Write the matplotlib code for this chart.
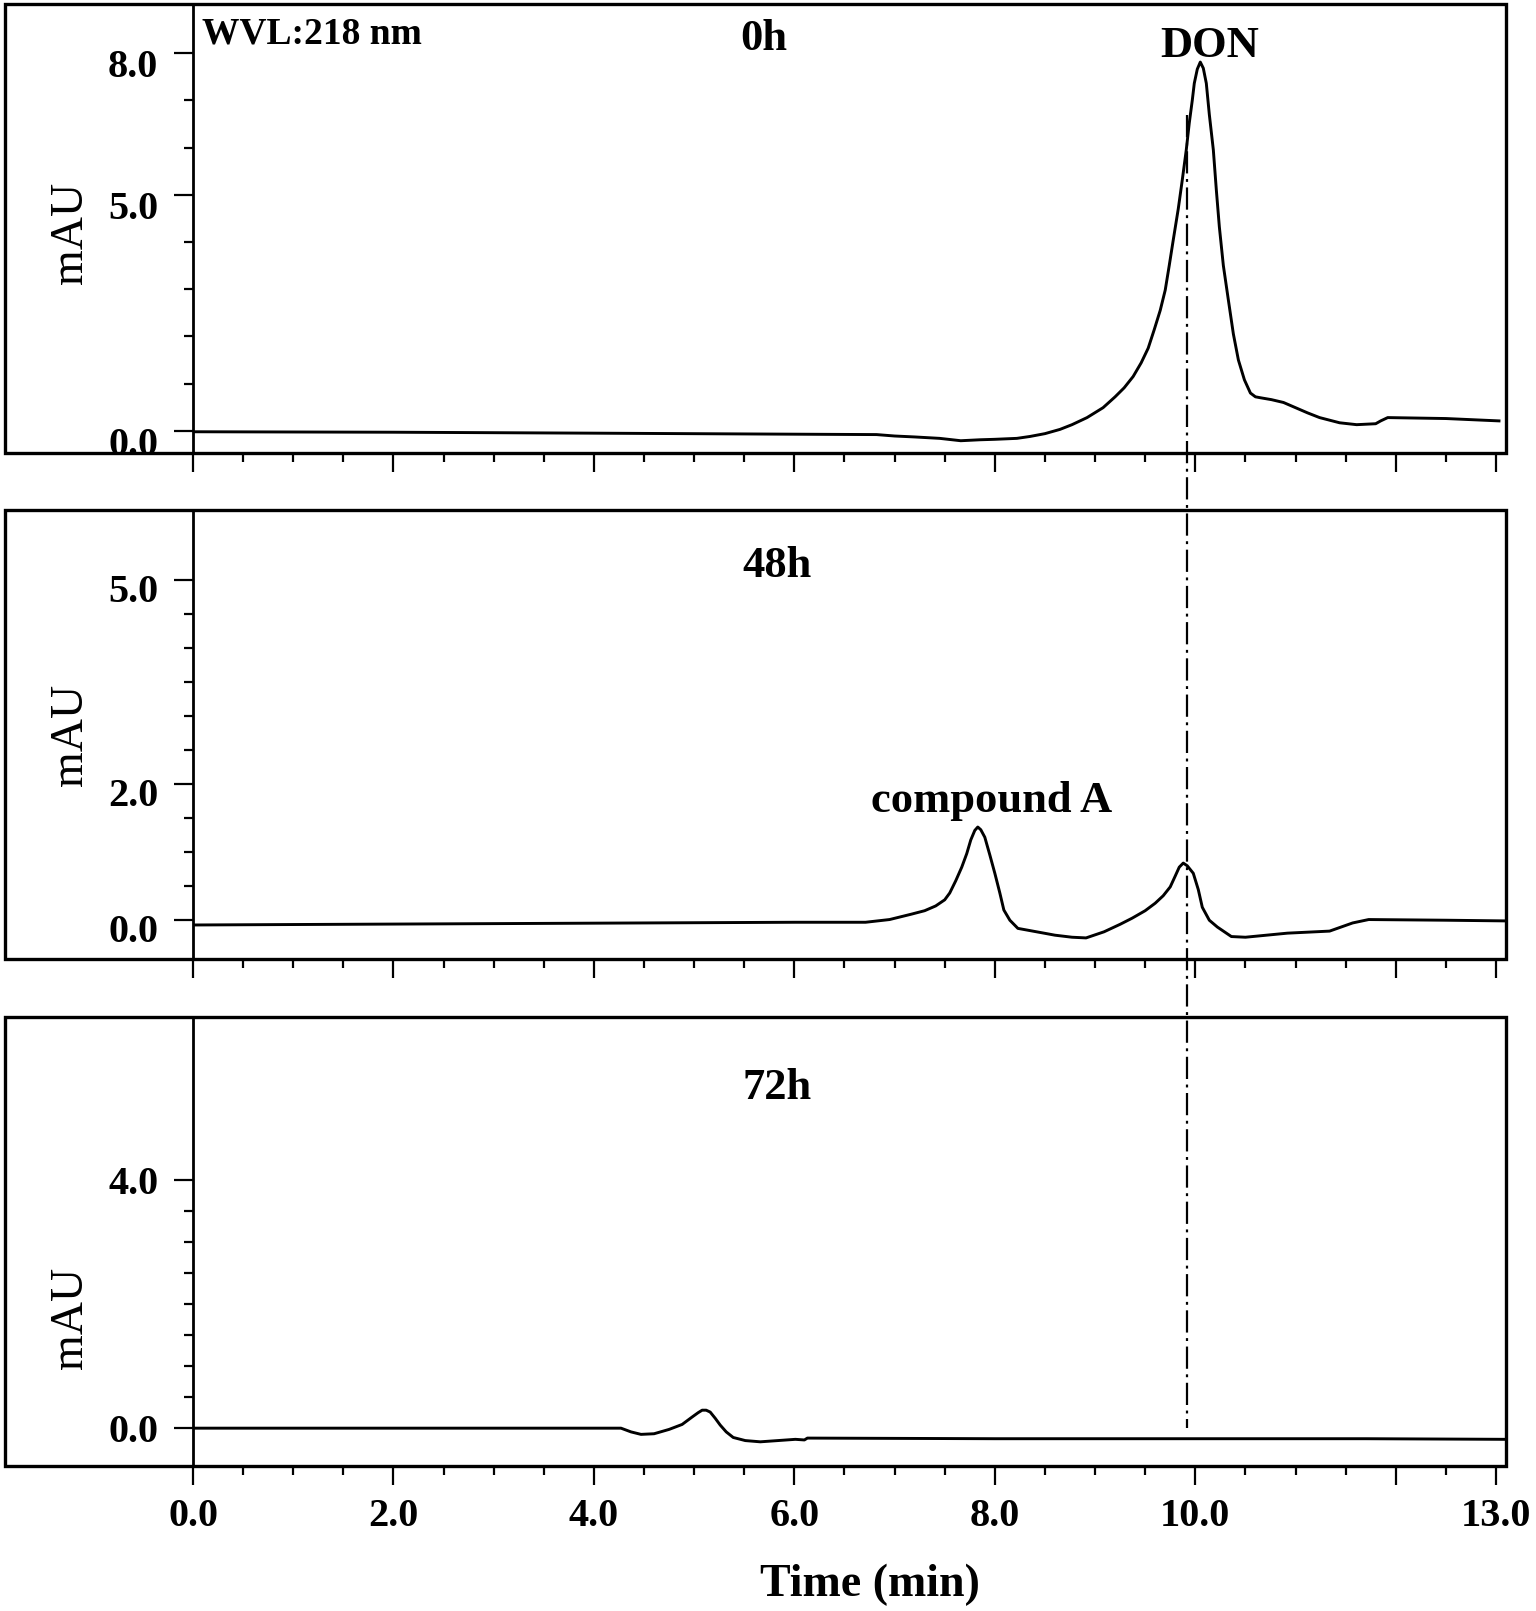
import numpy as np
import matplotlib
matplotlib.use("Agg")
import matplotlib.pyplot as plt
import matplotlib.transforms as mtransforms
from matplotlib.patches import Rectangle
from matplotlib.lines import Line2D

plt.rcParams['font.family'] = ['Liberation Serif', 'DejaVu Serif']

# ---- data (time in min, signal in mAU) ----
t_0h = [0.0, 2.0, 4.0, 5.84, 6.82, 7.0, 7.2, 7.45, 7.66, 7.85, 8.0, 8.22, 8.35,
        8.5, 8.65, 8.77, 8.92, 9.08, 9.2, 9.29, 9.38, 9.46, 9.53, 9.59, 9.65,
        9.70, 9.74, 9.78, 9.83, 9.87, 9.91, 9.94, 9.97, 9.99, 10.02, 10.05,
        10.08, 10.11, 10.14, 10.18, 10.21, 10.24, 10.28, 10.33, 10.38, 10.43,
        10.49, 10.55, 10.60, 10.65, 10.76, 10.88, 11.0, 11.12, 11.24, 11.44,
        11.61, 11.80, 11.85, 11.92, 12.5, 13.03]
mau_0h = [-0.02, -0.03, -0.05, -0.07, -0.08, -0.11, -0.13, -0.16, -0.21, -0.19,
          -0.18, -0.16, -0.12, -0.06, 0.03, 0.13, 0.28, 0.49, 0.72, 0.91, 1.15,
          1.44, 1.75, 2.14, 2.55, 2.98, 3.50, 4.04, 4.70, 5.31, 5.95, 6.52,
          7.00, 7.36, 7.66, 7.81, 7.68, 7.36, 6.70, 5.95, 5.10, 4.32, 3.50,
          2.77, 2.05, 1.50, 1.08, 0.80, 0.72, 0.70, 0.66, 0.60, 0.49, 0.38,
          0.28, 0.17, 0.13, 0.15, 0.21, 0.28, 0.26, 0.21]

t_48h = [0.0, 3.0, 6.01, 6.71, 6.95, 7.17, 7.30, 7.41, 7.50, 7.55, 7.61, 7.67,
         7.72, 7.76, 7.80, 7.83, 7.86, 7.90, 7.95, 8.00, 8.05, 8.09, 8.15, 8.23,
         8.49, 8.60, 8.77, 8.91, 9.09, 9.25, 9.37, 9.50, 9.60, 9.68, 9.75, 9.80,
         9.84, 9.88, 9.92, 9.98, 10.03, 10.07, 10.14, 10.22, 10.36, 10.50,
         10.92, 11.34, 11.57, 11.73, 12.5, 13.1]
mau_48h = [-0.07, -0.05, -0.03, -0.03, 0.01, 0.09, 0.14, 0.21, 0.30, 0.40, 0.58,
           0.78, 0.98, 1.18, 1.32, 1.37, 1.33, 1.22, 0.96, 0.69, 0.40, 0.15,
           0.0, -0.12, -0.19, -0.22, -0.25, -0.26, -0.17, -0.06, 0.03, 0.14,
           0.25, 0.36, 0.49, 0.65, 0.78, 0.84, 0.80, 0.69, 0.45, 0.19, 0.0,
           -0.10, -0.24, -0.25, -0.19, -0.16, -0.04, 0.01, 0.0, -0.01]

t_72h = [0.0, 2.0, 3.43, 4.27, 4.37, 4.47, 4.60, 4.75, 4.88, 4.98, 5.04, 5.08,
         5.12, 5.16, 5.21, 5.26, 5.32, 5.39, 5.51, 5.66, 6.01, 6.10, 6.13, 8.0,
         10.0, 11.7, 13.1]
mau_72h = [0.0, 0.0, 0.0, 0.0, -0.06, -0.10, -0.09, -0.02, 0.06, 0.18, 0.25,
           0.29, 0.29, 0.26, 0.16, 0.05, -0.06, -0.15, -0.20, -0.22, -0.18,
           -0.19, -0.16, -0.17, -0.17, -0.17, -0.18]

times = [t_0h, t_48h, t_72h]
signals = [mau_0h, mau_48h, mau_72h]
panel_names = ['0h', '48h', '72h']

y_major = [[0, 5, 8], [0, 2, 5], [0, 4]]
y_minor = [[1, 2, 3, 4, 6, 7],
           [0.5, 1, 1.5, 2.5, 3, 3.5, 4, 4.5],
           [0.5, 1, 1.5, 2, 2.5, 3, 3.5]]
y_limits = [(-0.47, 9.04), (-0.57, 6.03), (-0.61, 6.63)]

x_major = [0, 2, 4, 6, 8, 10, 12, 13]
x_labels = ['0.0', '2.0', '4.0', '6.0', '8.0', '10.0', '', '13.0']
don_time = 9.92

# ---- layout (pixels) ----
W, H = 1536, 1611
box_left, axis_left, box_right = 5, 193, 1506
panels_px = [(4, 453), (510, 959), (1017, 1466)]
title_pos = [(0.435, 0.898), (0.445, 0.851), (0.445, 0.817)]
mau_pos = [0.49, 0.50, 0.33]
ylab_shift = [-10, -8, 0]

fig = plt.figure(figsize=(W / 100, H / 100), dpi=100)
axes = []
for i, (top, bot) in enumerate(panels_px):
    ax = fig.add_axes([axis_left / W, 1 - bot / H,
                       (box_right - axis_left) / W, (bot - top) / H])
    ax.plot(times[i], signals[i], color='black', lw=2.1)
    ax.set_xlim(0, 13.1)
    ax.set_ylim(*y_limits[i])
    for s in ['top', 'right', 'bottom']:
        ax.spines[s].set_visible(False)
    ax.spines['left'].set_linewidth(2.0)

    ax.set_yticks(y_major[i])
    ax.set_yticks(y_minor[i], minor=True)
    ax.set_yticklabels([f'{v:.1f}' for v in y_major[i]],
                       fontsize=29, fontweight='bold')
    ax.tick_params(axis='y', which='major', direction='out', length=14,
                   width=1.6, pad=11)
    ax.tick_params(axis='y', which='minor', direction='out', length=6.5,
                   width=1.6)
    off = mtransforms.ScaledTranslation(0, ylab_shift[i] / 100, fig.dpi_scale_trans)
    for lab in ax.get_yticklabels():
        lab.set_transform(lab.get_transform() + off)

    ax.set_xticks(x_major)
    ax.set_xticks(np.arange(0.5, 13.0, 0.5), minor=True)
    if i == 2:
        ax.set_xticklabels(x_labels, fontsize=29, fontweight='bold')
        xoff = mtransforms.ScaledTranslation(-10 / 100, 0, fig.dpi_scale_trans)
        for lab in ax.get_xticklabels():
            lab.set_transform(lab.get_transform() + xoff)
    else:
        ax.set_xticklabels([])
    ax.tick_params(axis='x', which='major', direction='out', length=14,
                   width=1.6, pad=9)
    ax.tick_params(axis='x', which='minor', direction='out', length=6.5,
                   width=1.6)

    ax.text(title_pos[i][0], title_pos[i][1], panel_names[i],
            transform=ax.transAxes, fontsize=32, fontweight='bold',
            ha='center', va='baseline')
    ax.text(-0.093, mau_pos[i], 'mAU', transform=ax.transAxes, rotation=90,
            fontsize=33, ha='center', va='center')

    fig.add_artist(Rectangle((box_left / W, 1 - bot / H),
                             (box_right - box_left) / W, (bot - top) / H,
                             transform=fig.transFigure, fill=False,
                             lw=2.4, edgecolor='black'))
    axes.append(ax)

axes[0].text(0.0069, 0.913, 'WVL:218 nm', transform=axes[0].transAxes,
             fontsize=27, fontweight='bold', ha='left', va='baseline')
axes[0].text(10.14, 7.92, 'DON', fontsize=32, fontweight='bold',
             ha='center', va='baseline')
axes[1].text(7.97, 1.59, 'compound A', fontsize=32, fontweight='bold',
             ha='center', va='baseline')

# dash-dot marker at DON retention time across all panels
trans = mtransforms.blended_transform_factory(axes[1].transData, fig.transFigure)
fig.add_artist(Line2D([don_time, don_time], [1 - 115 / H, 1 - 1428 / H],
                      transform=trans, color='black', lw=1.6,
                      linestyle=(0, (10, 2.5, 1.3, 2.5))))

fig.text(870 / W, 1 - 1596 / H, 'Time (min)', ha='center', va='baseline',
         fontsize=33, fontweight='bold')

fig.savefig('out.png', dpi=100)
